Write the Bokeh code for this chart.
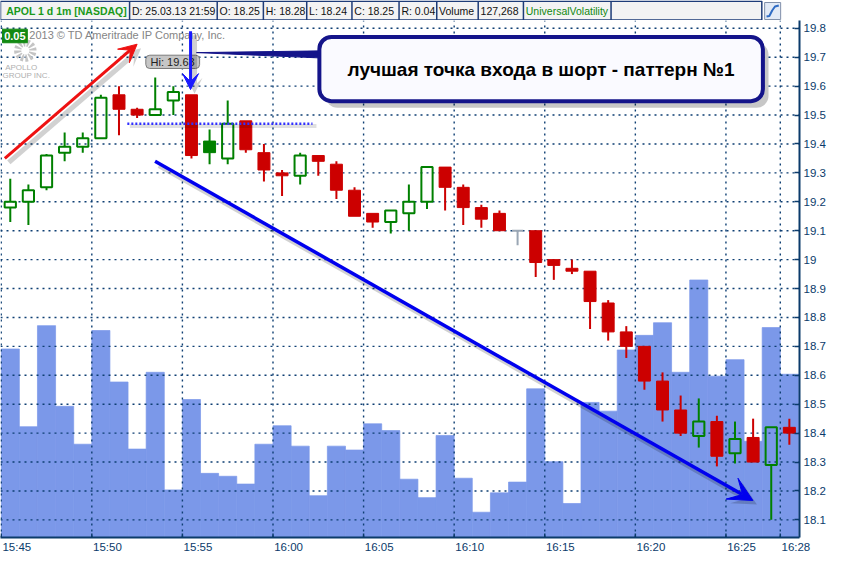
from bokeh.plotting import figure
from bokeh.models import (Range1d, FixedTicker, CustomJSTickFormatter, Label, Arrow, VeeHead)
from bokeh.layouts import column
from bokeh.embed import file_html
from bokeh.resources import INLINE
from bokeh.core.properties import value

# ---------------- data (1-minute bars, 15:45 .. 16:28) ----------------
MINUTE = list(range(44))
OPEN = [19.18, 19.20, 19.25, 19.37, 19.39, 19.42, 19.57, 19.52, 19.50, 19.55,
        19.57, 19.41, 19.35, 19.48, 19.37, 19.30, 19.29, 19.36, 19.33, 19.24,
        19.16, 19.13, 19.16, 19.20, 19.32, 19.25, 19.18, 19.16, 19.10, 19.10,
        19.00, 18.97, 18.96, 18.85, 18.75, 18.70, 18.58, 18.48, 18.39, 18.44,
        18.33, 18.385, 18.29, 18.42]
HIGH = [19.28, 19.26, 19.365, 19.44, 19.44, 19.57, 19.60, 19.525, 19.63, 19.60,
        19.57, 19.45, 19.55, 19.48, 19.40, 19.31, 19.37, 19.36, 19.34, 19.25,
        19.16, 19.17, 19.26, 19.32, 19.32, 19.26, 19.19, 19.17, 19.10, 19.10,
        19.00, 19.00, 18.96, 18.86, 18.77, 18.70, 18.61, 18.53, 18.52, 18.46,
        18.44, 18.45, 18.42, 18.45]
LOW = [19.13, 19.12, 19.24, 19.34, 19.37, 19.42, 19.43, 19.49, 19.50, 19.50,
       19.35, 19.33, 19.33, 19.37, 19.27, 19.22, 19.26, 19.29, 19.21, 19.15,
       19.11, 19.09, 19.10, 19.175, 19.17, 19.12, 19.11, 19.10, 19.05, 18.94,
       18.93, 18.95, 18.76, 18.72, 18.66, 18.55, 18.44, 18.39, 18.35, 18.285,
       18.295, 18.30, 18.10, 18.36]
CLOSE = [19.20, 19.24, 19.36, 19.39, 19.42, 19.56, 19.52, 19.50, 19.52, 19.58,
         19.36, 19.37, 19.47, 19.38, 19.31, 19.29, 19.36, 19.34, 19.24, 19.15,
         19.13, 19.17, 19.20, 19.32, 19.25, 19.18, 19.14, 19.10, 19.10, 18.99,
         18.98, 18.96, 18.855, 18.75, 18.70, 18.58, 18.48, 18.40, 18.44, 18.32,
         18.38, 18.30, 18.42, 18.40]
VOLUME = [19400, 11400, 21800, 13500, 9600, 21300, 16000, 9100, 17000, 4900,
          14200, 6600, 6300, 5500, 9600, 11500, 9400, 4300, 9400, 9000,
          11700, 11000, 6000, 4100, 10500, 6100, 2600, 4600, 5700, 15300,
          7800, 3500, 13900, 13000, 19300, 20800, 22100, 17000, 26500, 16600,
          18300, 9900, 21600, 16800]

X_TICKS = [0, 5, 10, 15, 20, 25, 30, 35, 40, 43]
X_TICK_LABELS = ["15:45", "15:50", "15:55", "16:00", "16:05", "16:10",
                 "16:15", "16:20", "16:25", "16:28"]
Y_TICKS = [18.1, 18.2, 18.3, 18.4, 18.5, 18.6, 18.7, 18.8, 18.9, 19.0,
           19.1, 19.2, 19.3, 19.4, 19.5, 19.6, 19.7, 19.8]
LAST_PRICE = 18.25
HI_TEXT = "Hi: 19.63"
CALLOUT_TEXT = "лучшая точка входа в шорт - паттерн №1"
HEADER_TEXTS = ["APOL 1 d 1m [NASDAQ]", "D: 25.03.13 21:59", "O: 18.25", "H: 18.28",
                "L: 18.24", "C: 18.25", "R: 0.04", "Volume", "127,268",
                "UniversalVolatility"]

FONT = "Liberation Sans"
RED = "#cc0000"
GREEN = "#008000"
GRAY = "#9aa6b4"
NAVY = "#0b3b6b"
VOLC = "#7b98e9"
GRIDC = "#0e3f73"

X0, X1 = -0.04, 44.06
Y0, Y1 = 18.039, 19.827

# ---------------- header strip ----------------
HDR_EDGES = [0, 137, 230, 279, 325, 373, 423, 463, 507, 555, 648, 808]
hdr = figure(width=840, height=20, x_range=Range1d(0, 848), y_range=Range1d(20, 0),
             output_backend="svg", toolbar_location=None, min_border=0)
hdr.axis.visible = False
hdr.grid.visible = False
hdr.outline_line_color = None
hdr.background_fill_color = "white"
hdr.border_fill_color = "white"
hdr.quad(left=[0], right=[808], top=[0.8], bottom=[19.6], fill_color="#f3f3f3",
         line_color="#1e3c78", line_width=1.5)
hdr.segment(x0=HDR_EDGES[1:-1], y0=[0.8] * (len(HDR_EDGES) - 2),
            x1=HDR_EDGES[1:-1], y1=[19.6] * (len(HDR_EDGES) - 2),
            line_color="#1e3c78", line_width=1.5)
hdr_x = [e + 2.5 for e in HDR_EDGES[:len(HEADER_TEXTS)]]
hdr_x[0] = 6
hdr_col = ["#1a991a"] + ["#111111"] * 8 + ["#118811"]
hdr_style = ["bold"] + ["normal"] * 9
hdr_size = ["10.5px"] + ["10.5px"] * 9
for tx, t, c, s, fs in zip(hdr_x, HEADER_TEXTS, hdr_col, hdr_style, hdr_size):
    hdr.text(x=[tx], y=[10.6], text=[t], text_color=c, text_font=value(FONT),
             text_font_size=fs, text_font_style=s, text_baseline="middle",
             text_align="left")
# small study icon
hdr.quad(left=[811], right=[828], top=[2], bottom=[19], fill_color="#e2eaf6",
         line_color="#8090aa", line_width=1)
hdr.line(x=[813, 816, 819, 822, 826], y=[16, 15.5, 10, 6, 5], line_color="#2f6cc4",
         line_width=2)

# ---------------- main chart ----------------
p = figure(width=840, height=536, x_range=Range1d(X0, X1),
           y_range=Range1d(Y0, Y1), y_axis_location="right",
           output_backend="svg", toolbar_location=None,
           min_border_left=0, min_border_top=0, min_border_right=41,
           min_border_bottom=19)
p.outline_line_color = None
p.background_fill_color = "white"
p.border_fill_color = "white"
p.grid.visible = False

p.extra_y_ranges = {"vol": Range1d(0, 53200)}

xc = [m + 0.5 for m in MINUTE]

# volume
p.vbar(x=xc, width=1.0, top=VOLUME, bottom=0, y_range_name="vol",
       fill_color=VOLC, line_color=VOLC, line_width=0.7)

# dotted grid at the tick positions (above the volume, below the candles)
for t in X_TICKS:
    p.line(x=[t, t], y=[Y0, Y1], line_color=GRIDC, line_width=1.4, line_dash="2 4")
for t in Y_TICKS:
    p.line(x=[X0, X1], y=[t, t], line_color=GRIDC, line_width=1.4, line_dash="2 4")
# x tick marks (inside the frame)
p.segment(x0=X_TICKS, y0=[Y0] * len(X_TICKS), x1=X_TICKS, y1=[Y0 + 0.014] * len(X_TICKS),
          line_color=NAVY, line_width=1.5)

# candle colours: colour by change vs previous close, hollow when close >= open
colors, hollow = [], []
for i in range(len(MINUTE)):
    if i == 0 or CLOSE[i] > CLOSE[i - 1]:
        colors.append(GREEN)
    elif CLOSE[i] < CLOSE[i - 1]:
        colors.append(RED)
    else:
        colors.append(GRAY)
    hollow.append(CLOSE[i] >= OPEN[i])

btop = [max(o, c) for o, c in zip(OPEN, CLOSE)]
bbot = [min(o, c) for o, c in zip(OPEN, CLOSE)]

p.segment(x0=xc, y0=HIGH, x1=xc, y1=btop, line_color=colors, line_width=2)
p.segment(x0=xc, y0=bbot, x1=xc, y1=LOW, line_color=colors, line_width=2)

hi_idx = [i for i in range(len(MINUTE)) if hollow[i]]
fi_idx = [i for i in range(len(MINUTE)) if not hollow[i]]
p.vbar(x=[xc[i] for i in fi_idx], width=0.66, top=[btop[i] for i in fi_idx],
       bottom=[bbot[i] for i in fi_idx], fill_color=[colors[i] for i in fi_idx],
       line_color=[colors[i] for i in fi_idx], line_width=1)
p.vbar(x=[xc[i] for i in hi_idx], width=0.62, top=[btop[i] for i in hi_idx],
       bottom=[bbot[i] for i in hi_idx], fill_color=None,
       line_color=[colors[i] for i in hi_idx], line_width=2)

# axes
for ax in (p.xaxis[0], p.yaxis[0]):
    ax.axis_line_color = NAVY
    ax.axis_line_width = 2
    ax.major_tick_line_color = NAVY
    ax.major_tick_line_width = 1.5
    ax.major_tick_out = 0
    ax.major_tick_in = 5
    ax.minor_tick_line_color = None
    ax.major_label_text_color = NAVY
    ax.major_label_text_font = FONT
    ax.major_label_text_font_size = "11.5px"

p.yaxis.ticker = FixedTicker(ticks=Y_TICKS)
p.yaxis.formatter = CustomJSTickFormatter(code="return (Math.round(tick*10)/10).toString()")
p.yaxis.major_label_standoff = 4

# x labels are left-aligned at their tick: place them half a label width to the right
LBL_SHIFT = 0.86
x_lbl_pos = [t + LBL_SHIFT for t in X_TICKS]
p.xaxis.ticker = FixedTicker(ticks=x_lbl_pos)
p.xaxis.major_label_overrides = {t: l for t, l in zip(x_lbl_pos, X_TICK_LABELS)}
p.xaxis.major_tick_line_color = None
p.xaxis.major_label_standoff = 3

# ---------------- drawn annotations ----------------
# watermark / logo
ang = [k * 0.5236 for k in range(12)]
p.wedge(x=[1.33] * 12, y=[19.723] * 12, radius=0.62, start_angle=ang,
        end_angle=[a + 0.30 for a in ang], fill_color="#c4c4c4", line_color=None)
p.circle(x=[1.33], y=[19.723], radius=0.22, fill_color="white", line_color=None)
p.text(x=[1.10], y=[19.664], text=["APOLLO"], text_font=value(FONT), text_font_size="8px",
       text_color="#b0b0b0", text_align="center", text_baseline="middle")
p.text(x=[1.38], y=[19.638], text=["GROUP INC."], text_font=value(FONT), text_font_size="8px",
       text_color="#b0b0b0", text_align="center", text_baseline="middle")

# green value box + copyright
p.quad(left=[0.07], right=[1.44], top=[19.797], bottom=[19.75], fill_color="#138a13",
       line_color="#138a13")
p.text(x=[0.755], y=[19.7735], text=["0.05"], text_font=value(FONT), text_font_size="11px",
       text_font_style="bold", text_color="white", text_align="center", text_baseline="middle")
p.text(x=[1.55], y=[19.776], text=["2013 \u00a9 TD Ameritrade IP Company, Inc."],
       text_font=value(FONT), text_font_size="11px", text_color="#858585",
       text_align="left", text_baseline="middle")

# Hi bubble
p.quad(left=[7.98], right=[10.95], top=[19.707], bottom=[19.661], fill_color="#c6c6c6",
       line_color="#7c7c7c", line_width=1, border_radius=4)
p.text(x=[9.46], y=[19.684], text=[HI_TEXT], text_font=value(FONT), text_font_size="11px",
       text_color="#222222", text_align="center", text_baseline="middle")

# dotted level line
p.line(x=[7.1, 17.4], y=[19.462, 19.462], line_color="#000000", line_alpha=0.12, line_width=4)
p.line(x=[6.96, 17.18], y=[19.47, 19.47], line_color="#3030ff", line_width=2.5,
       line_dash="2 2")

# callout box
p.quad(left=[17.9], right=[42.35], top=[19.75], bottom=[19.525], fill_color="#000000",
       fill_alpha=0.22, line_color=None, border_radius=12)
p.patch(x=[10.78, 17.8, 17.8], y=[19.716, 19.722, 19.697], fill_color="#14148a",
        line_color="#14148a", line_width=1)
p.quad(left=[17.56], right=[42.04], top=[19.77], bottom=[19.548], fill_color="#fafaff",
       line_color="#14148a", line_width=4, border_radius=12)
p.text(x=[29.8], y=[19.659], text=[CALLOUT_TEXT], text_font=value(FONT),
       text_font_size="19px", text_font_style="bold", text_color="black",
       text_align="center", text_baseline="middle")

# arrows (with soft shadows)
def arrow(x0, y0, x1, y1, color, width, head):
    p.add_layout(Arrow(end=VeeHead(size=head, fill_color="black", fill_alpha=0.18,
                                   line_color=None),
                       x_start=x0 + 0.22, y_start=y0 - 0.014, x_end=x1 + 0.22, y_end=y1 - 0.014,
                       line_color="black", line_alpha=0.18, line_width=width + 2))
    p.add_layout(Arrow(end=VeeHead(size=head, fill_color=color, line_color=color),
                       x_start=x0, y_start=y0, x_end=x1, y_end=y1,
                       line_color=color, line_width=width))

arrow(0.2, 19.35, 7.5, 19.745, "#ee1111", 3, 18)
arrow(10.45, 19.79, 10.45, 19.588, "#1a1aff", 3, 16)
arrow(8.49, 19.34, 41.49, 18.167, "#0000ee", 3.5, 24)

# last price tag
p.add_layout(Label(x=44.2, y=LAST_PRICE, text=f"{LAST_PRICE:.2f}", text_color="white",
                   text_font=FONT, text_font_size="12px", text_baseline="middle",
                   text_align="left", background_fill_color=RED, border_radius=3,
                   padding=2))

layout = column(hdr, p, spacing=0)
open("out.html", "w").write(file_html(layout, INLINE))
